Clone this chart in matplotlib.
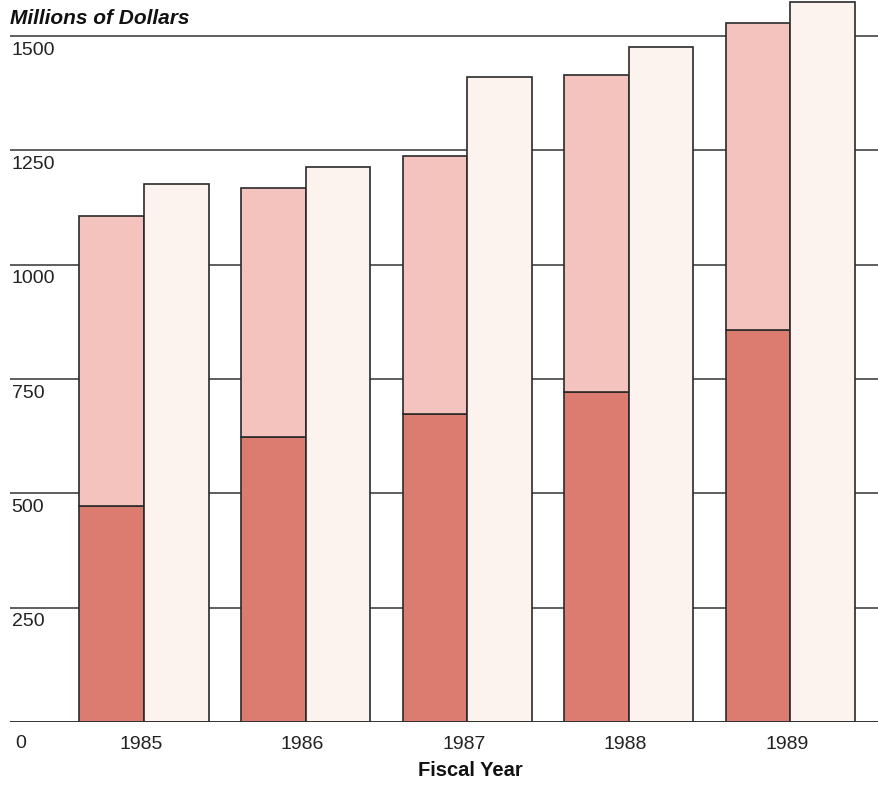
import matplotlib
matplotlib.use("Agg")
import matplotlib.pyplot as plt
import numpy as np

plt.rcParams['font.family'] = ['Liberation Sans', 'DejaVu Sans']

years = ['1985', '1986', '1987', '1988', '1989']
# stacked bar: lower (dark) part and total height
lower = [472, 623, 673, 722, 857]
total = [1106, 1168, 1238, 1415, 1529]
# second bar
other = [1176, 1214, 1410, 1476, 1574]
yticks = [250, 500, 750, 1000, 1250, 1500]

dark = '#dc7b70'
pink = '#f5c3be'
cream = '#fdf3ee'
edge = '#2a2a2a'

W, H = 879, 786
fig = plt.figure(figsize=(W / 100, H / 100), dpi=100)
ax = fig.add_axes([10 / W, 64 / H, 1 - 10 / W, 722 / H])

x = np.arange(len(years))
w = 0.4
upper = [t - l for t, l in zip(total, lower)]

# grid lines behind bars
for v in yticks:
    ax.axhline(v, color='#333333', lw=1.1, zorder=0)
ax.axhline(0, color='#333333', lw=1.4, zorder=3)

ax.bar(x - w / 2, lower, w, color=dark, edgecolor=edge, lw=1.2, zorder=2)
ax.bar(x - w / 2, upper, w, bottom=lower, color=pink, edgecolor=edge, lw=1.2, zorder=2)
ax.bar(x + w / 2, other, w, color=cream, edgecolor=edge, lw=1.2, zorder=2)

ax.set_xlim(-0.83, 4.55)
ax.set_ylim(0, 1579)
ax.axis('off')

# y tick labels sit just under each grid line
for v in yticks:
    ax.text(-0.82, v - 12, str(v), ha='left', va='top', fontsize=14, color='#222222')
ax.text(-0.80, -28, '0', ha='left', va='top', fontsize=14, color='#222222')

for i, yr in enumerate(years):
    ax.text(i - 0.02, -30, yr, ha='center', va='top', fontsize=14, color='#222222')

fig.text(10 / W, 1 - 19 / H, 'Millions of Dollars', ha='left', va='center',
         fontsize=15, fontweight='bold', fontstyle='italic', color='#111111')
fig.text(470 / W, 1 - 771 / H, 'Fiscal Year', ha='center', va='center',
         fontsize=14.5, fontweight='bold', color='#111111')

fig.savefig('out.png', dpi=100)
